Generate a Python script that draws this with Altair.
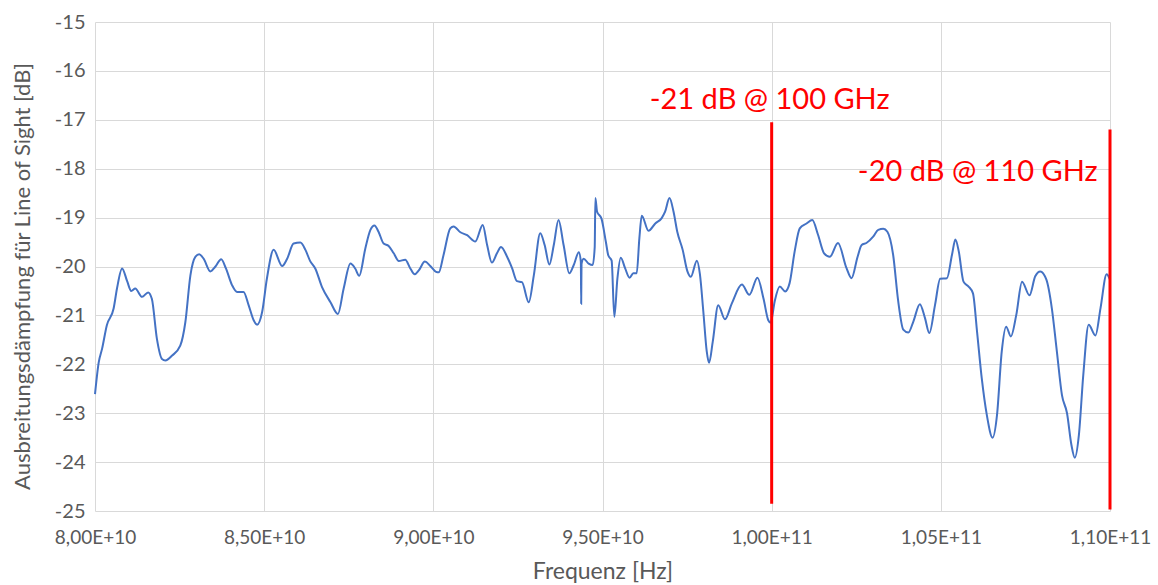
import altair as alt
import pandas as pd

# Measured propagation loss (line of sight) over frequency, in GHz / dB
freq_ghz = [
    80.00, 80.11, 80.21, 80.35, 80.55, 80.65, 80.80, 80.95, 81.07, 81.19,
    81.39, 81.57, 81.68, 81.83, 81.98, 82.08, 82.28, 82.52, 82.67, 82.82,
    82.97, 83.08, 83.21, 83.41, 83.56, 83.73, 83.87, 84.05, 84.20, 84.39,
    84.54, 84.69, 84.79, 84.94, 85.08, 85.28, 85.53, 85.68, 85.87, 86.07,
    86.22, 86.36, 86.51, 86.71, 86.96, 87.18, 87.35, 87.55, 87.69, 87.81,
    87.99, 88.14, 88.26, 88.38, 88.53, 88.68, 88.83, 88.98, 89.17, 89.32,
    89.45, 89.57, 89.75, 89.91, 90.08, 90.16, 90.30, 90.50, 90.60, 90.80,
    91.00, 91.24, 91.46, 91.59, 91.73, 91.88, 92.00, 92.18, 92.33, 92.47,
    92.62, 92.82, 92.97, 93.16, 93.29, 93.43, 93.56, 93.70, 93.85, 94.02,
    94.15, 94.30, 94.36, 94.37, 94.38, 94.44, 94.59, 94.71, 94.77, 94.79,
    94.84, 94.97, 95.10, 95.17, 95.27, 95.35, 95.44, 95.54, 95.67, 95.80,
    95.91, 96.01, 96.09, 96.16, 96.36, 96.56, 96.75, 96.85, 96.98, 97.10,
    97.21, 97.37, 97.51, 97.61, 97.79, 97.88, 97.98, 98.08, 98.15, 98.26,
    98.42, 98.62, 98.82, 99.12, 99.34, 99.58, 99.76, 99.90, 99.97, 100.09,
    100.24, 100.40, 100.53, 100.68, 100.83, 101.03, 101.20, 101.37, 101.55, 101.72,
    101.96, 102.21, 102.36, 102.54, 102.66, 102.80, 103.00, 103.15, 103.30, 103.42,
    103.59, 103.74, 103.89, 104.04, 104.19, 104.38, 104.53, 104.66, 104.83, 104.98,
    105.18, 105.33, 105.43, 105.53, 105.67, 105.82, 105.95, 106.07, 106.21, 106.36,
    106.53, 106.66, 106.80, 106.93, 107.07, 107.23, 107.40, 107.62, 107.79, 107.94,
    108.12, 108.28, 108.43, 108.58, 108.73, 108.86, 108.96, 109.08, 109.21, 109.37,
    109.57, 109.72, 109.90, 110.00,
]
atten_db = [
    -22.61, -21.96, -21.68, -21.20, -20.86, -20.45, -20.04, -20.30, -20.50, -20.45,
    -20.62, -20.53, -20.66, -21.48, -21.89, -21.92, -21.82, -21.62, -21.14, -20.18,
    -19.80, -19.75, -19.84, -20.10, -20.00, -19.85, -20.04, -20.38, -20.52, -20.52,
    -20.79, -21.10, -21.19, -20.93, -20.25, -19.66, -19.99, -19.84, -19.53, -19.51,
    -19.66, -19.89, -20.04, -20.42, -20.73, -20.97, -20.45, -19.94, -20.04, -20.19,
    -19.63, -19.25, -19.16, -19.29, -19.53, -19.58, -19.73, -19.89, -19.86, -20.04,
    -20.16, -20.08, -19.90, -19.99, -20.11, -20.12, -19.77, -19.22, -19.18, -19.30,
    -19.36, -19.49, -19.15, -19.56, -19.92, -19.73, -19.60, -19.80, -20.04, -20.30,
    -20.32, -20.73, -20.18, -19.32, -19.56, -19.96, -19.56, -19.05, -19.56, -20.14,
    -19.97, -19.71, -19.90, -20.76, -19.95, -19.84, -19.94, -19.97, -19.60, -18.60,
    -18.88, -19.02, -19.50, -19.77, -19.88, -21.03, -20.25, -19.82, -20.04, -20.23,
    -20.14, -20.14, -19.42, -18.96, -19.27, -19.12, -19.01, -18.88, -18.60, -18.88,
    -19.29, -19.66, -20.10, -20.21, -19.88, -20.16, -20.92, -21.73, -21.97, -21.53,
    -20.79, -21.08, -20.76, -20.37, -20.58, -20.23, -20.66, -21.10, -21.15, -20.71,
    -20.41, -20.51, -20.34, -19.69, -19.22, -19.12, -19.05, -19.35, -19.73, -19.80,
    -19.52, -20.03, -20.24, -19.80, -19.56, -19.52, -19.39, -19.25, -19.23, -19.29,
    -19.76, -20.71, -21.29, -21.35, -21.12, -20.77, -21.05, -21.36, -20.78, -20.25,
    -20.24, -19.76, -19.45, -19.69, -20.31, -20.41, -20.55, -21.33, -22.29, -23.04,
    -23.50, -23.04, -21.74, -21.23, -21.43, -20.99, -20.31, -20.59, -20.20, -20.10,
    -20.27, -20.85, -21.74, -22.63, -23.00, -23.65, -23.91, -23.45, -22.22, -21.19,
    -21.41, -20.85, -20.16, -20.27,
]

# Axis ticks
x_ticks_hz = [8.0e10, 8.5e10, 9.0e10, 9.5e10, 1.0e11, 1.05e11, 1.1e11]
y_ticks_db = [-15, -16, -17, -18, -19, -20, -21, -22, -23, -24, -25]

# Red marker lines and their annotations
marker_freq_ghz = [100.0, 110.0]
marker_top_db = [-17.05, -17.2]
marker_bottom_db = [-24.85, -24.97]
label_text = ["-21 dB @ 100 GHz", "-20 dB @ 110 GHz"]
label_freq_ghz = [99.94, 106.09]
label_db = [-16.6, -18.07]

curve = pd.DataFrame({"f": [g * 1e9 for g in freq_ghz], "a": atten_db})
markers = pd.DataFrame({
    "f": [g * 1e9 for g in marker_freq_ghz],
    "top": marker_top_db,
    "bottom": marker_bottom_db,
})
labels = pd.DataFrame({
    "f": [g * 1e9 for g in label_freq_ghz],
    "a": label_db,
    "t": label_text,
})

x_scale = alt.Scale(domain=[8.0e10, 1.1e11], nice=False, zero=False)
y_scale = alt.Scale(domain=[-25, -15], nice=False, zero=False)

x_label_expr = (
    "datum.value < 99999999999 ? "
    "replace(format(datum.value / 1e10, '.2f'), '.', ',') + 'E+10' : "
    "replace(format(datum.value / 1e11, '.2f'), '.', ',') + 'E+11'"
)

x_axis = alt.Axis(
    values=x_ticks_hz,
    labelExpr=x_label_expr,
    title="Frequenz [Hz]",
    labelFlush=False,
    labelOverlap=False,
    labelPadding=17,
    labelFontSize=19,
    titleX=507.5,
    titleY=60,
    titleAlign="center",
    titleBaseline="middle",
)
y_axis = alt.Axis(
    values=y_ticks_db,
    labelExpr="'' + datum.value",
    title="Ausbreitungsdämpfung für Line of Sight [dB]",
    labelPadding=10,
    labelOverlap=False,
    labelFontSize=20,
    titleFontSize=22,
    titleX=-73,
    titleY=254,
    titleAngle=270,
    titleAlign="center",
    titleBaseline="middle",
)

line = alt.Chart(curve).mark_line(
    color="#4472C4", strokeWidth=2, interpolate="monotone"
).encode(
    x=alt.X("f:Q", scale=x_scale, axis=x_axis),
    y=alt.Y("a:Q", scale=y_scale, axis=y_axis),
)

rules = alt.Chart(markers).mark_rule(color="#FF0000", strokeWidth=3).encode(
    x=alt.X("f:Q", scale=x_scale),
    y=alt.Y("top:Q", scale=y_scale),
    y2="bottom:Q",
)

texts = alt.Chart(labels).mark_text(
    color="#FF0000", font="Lato", fontSize=29, align="center", baseline="middle"
).encode(
    x=alt.X("f:Q", scale=x_scale),
    y=alt.Y("a:Q", scale=y_scale),
    text="t:N",
)

chart = alt.layer(line, rules, texts).properties(
    width=1015,
    height=489,
    autosize=alt.AutoSizeParams(type="none"),
    padding={"left": 95, "top": 22, "right": 48, "bottom": 74},
    background="white",
).configure_axis(
    labelFont="Lato",
    titleFont="Lato",
    labelColor="#595959",
    titleColor="#595959",
    titleFontSize=23,
    titleFontWeight="normal",
    gridColor="#D9D9D9",
    gridWidth=1,
    domain=False,
    ticks=False,
).configure_view(
    strokeWidth=0,
)

chart.save("out.html", embed_options={"renderer": "svg", "actions": False})
